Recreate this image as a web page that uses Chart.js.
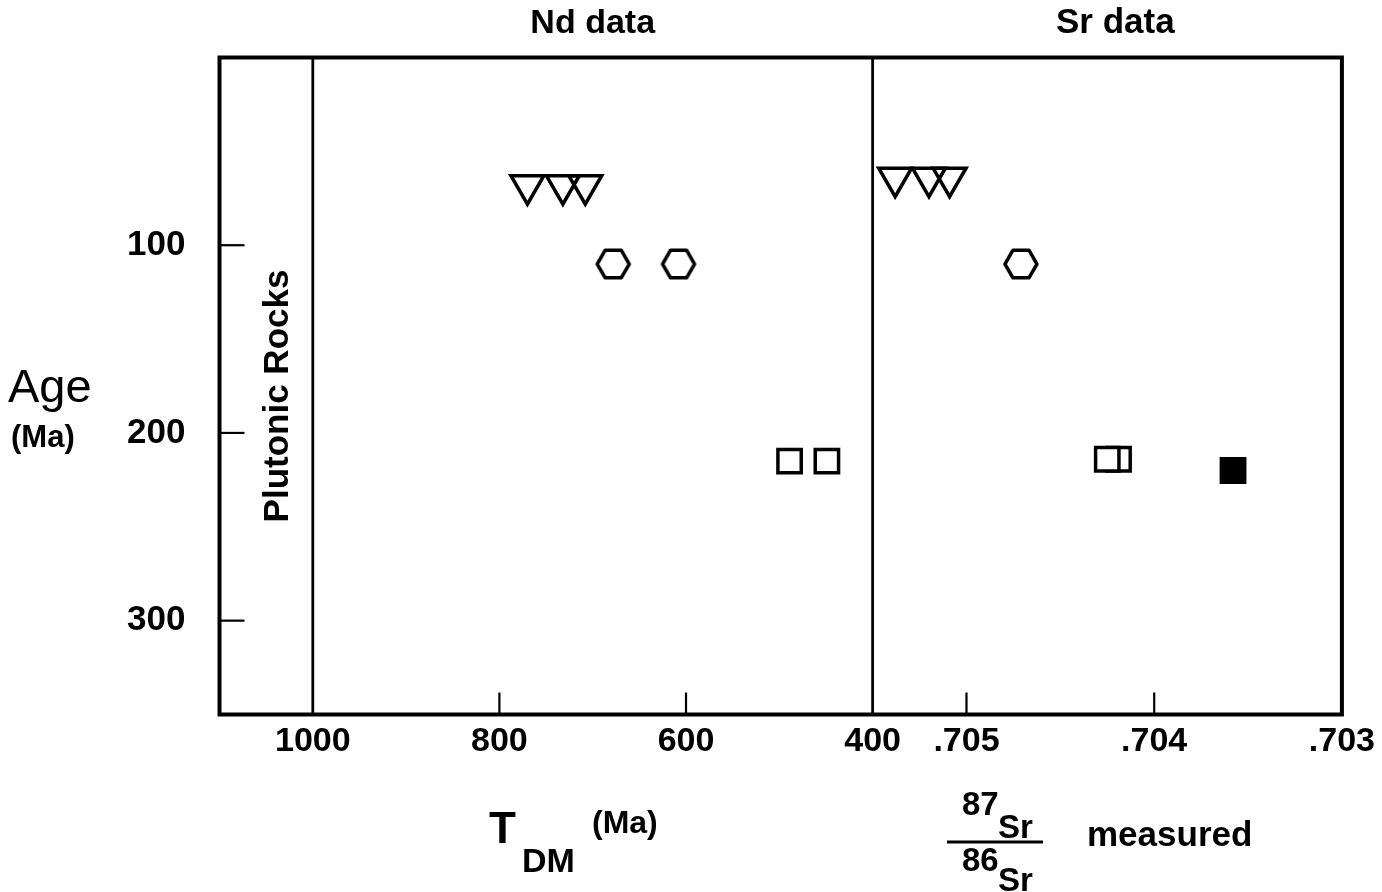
<!DOCTYPE html>
<html>
<head>
<meta charset="utf-8">
<script src="https://cdn.jsdelivr.net/npm/chart.js@4/dist/chart.umd.min.js"></script>
<style>
  html, body { margin: 0; padding: 0; background: #fff; overflow: hidden; }
  canvas { display: block; }
</style>
</head>
<body>
<canvas id="chart" width="1382" height="892"></canvas>
<script>
// Tick values for the two bottom scales and the age scale
const ndTicks = [1000, 800, 600, 400];
const srTicks = [0.705, 0.704, 0.703];
const ageTicks = [100, 200, 300];

// Nd model ages (T_DM, Ma) against crystallisation age (Ma)
const ndTriangleTdm = [770, 732, 708];
const ndTriangleAge = [68, 68, 68];
const ndHexagonTdm = [678, 608];
const ndHexagonAge = [110, 110];
const ndSquareTdm = [489, 449];
const ndSquareAge = [215, 215];

// Measured 87Sr/86Sr against age (Ma)
const srTriangleRatio = [0.70538, 0.70520, 0.70509];
const srTriangleAge = [64, 64, 64];
const srHexagonRatio = [0.70471];
const srHexagonAge = [110];
const srSquareRatio = [0.70419, 0.70425];
const srSquareAge = [214, 214];
const srFilledRatio = [0.70358];
const srFilledAge = [220];

const FONT = "'Liberation Sans', Arial, Helvetica, sans-serif";
const INK = '#000';

const toPoints = (xs, ys) => xs.map((x, i) => ({ x: x, y: ys[i] }));

// Open hexagon marker (flat top and bottom)
function hexagonMarker() {
  const c = document.createElement('canvas');
  c.width = 42; c.height = 38;
  const g = c.getContext('2d');
  const cx = 21, cy = 19, r = 16;
  g.beginPath();
  for (let k = 0; k < 6; k++) {
    const a = k * Math.PI / 3;
    const px = cx + r * Math.cos(a), py = cy + r * Math.sin(a);
    if (k === 0) g.moveTo(px, py); else g.lineTo(px, py);
  }
  g.closePath();
  g.fillStyle = '#fff';
  g.fill();
  g.lineWidth = 3.5;
  g.lineJoin = 'round';
  g.strokeStyle = INK;
  g.stroke();
  return c;
}
const hexagon = hexagonMarker();

function triangleSet(xAxisID, xs, ys) {
  return {
    xAxisID, data: toPoints(xs, ys),
    pointStyle: 'triangle', pointRotation: 180, pointRadius: 19,
    pointBorderWidth: 3.5, pointBorderColor: INK, pointBackgroundColor: 'rgba(0,0,0,0)'
  };
}
function squareSet(xAxisID, xs, ys, fill) {
  return {
    xAxisID, data: toPoints(xs, ys),
    pointStyle: 'rect', pointRadius: 16.5,
    pointBorderWidth: 3.5, pointBorderColor: INK, pointBackgroundColor: fill
  };
}
function hexagonSet(xAxisID, xs, ys) {
  return {
    xAxisID, data: toPoints(xs, ys),
    pointStyle: hexagon, pointRadius: 17, pointBorderWidth: 0
  };
}

// Frame, inner divider lines, inward tick marks and free text
const decorations = {
  id: 'decorations',
  afterDraw(chart) {
    const { ctx, chartArea: a } = chart;
    const nd = chart.scales.nd, sr = chart.scales.sr, y = chart.scales.y;
    ctx.save();
    ctx.strokeStyle = INK;
    ctx.lineCap = 'butt';

    // vertical lines at T_DM = 1000 Ma and at the Nd / Sr boundary
    ctx.lineWidth = 2.8;
    [nd.getPixelForValue(1000), nd.getPixelForValue(400)].forEach(px => {
      ctx.beginPath(); ctx.moveTo(px, a.top); ctx.lineTo(px, a.bottom); ctx.stroke();
    });

    // inward tick marks
    ctx.lineWidth = 2.2;
    ndTicks.filter(v => v !== 1000 && v !== 400).forEach(v => {
      const px = nd.getPixelForValue(v);
      ctx.beginPath(); ctx.moveTo(px, a.bottom); ctx.lineTo(px, a.bottom - 22); ctx.stroke();
    });
    srTicks.filter(v => v !== 0.703).forEach(v => {
      const px = sr.getPixelForValue(v);
      ctx.beginPath(); ctx.moveTo(px, a.bottom); ctx.lineTo(px, a.bottom - 22); ctx.stroke();
    });
    ageTicks.forEach(v => {
      const py = y.getPixelForValue(v);
      ctx.beginPath(); ctx.moveTo(a.left, py); ctx.lineTo(a.left + 25, py); ctx.stroke();
    });

    // outer frame
    ctx.lineWidth = 4;
    ctx.strokeRect(a.left, a.top, a.right - a.left, a.bottom - a.top);

    // text
    ctx.fillStyle = INK;
    ctx.textBaseline = 'alphabetic';
    const text = (s, x, yy, font, align) => {
      ctx.font = font; ctx.textAlign = align || 'left'; ctx.fillText(s, x, yy);
    };
    const ndMid = (nd.getPixelForValue(1000) + nd.getPixelForValue(400)) / 2;
    text('Nd data', ndMid, 33, 'bold 34px ' + FONT, 'center');
    text('Sr data', (sr.left + sr.right) / 2 + 8, 33, 'bold 35px ' + FONT, 'center');

    text('Age', 8, 402, '47px ' + FONT);
    text('(Ma)', 11, 447, 'bold 31px ' + FONT);

    text('T', 489, 843, 'bold 44px ' + FONT);
    text('DM', 522, 872, 'bold 34px ' + FONT);
    text('(Ma)', 592, 833, 'bold 32px ' + FONT);

    text('87', 962, 815, 'bold 33px ' + FONT);
    text('Sr', 998, 838, 'bold 33px ' + FONT);
    text('86', 962, 871, 'bold 33px ' + FONT);
    text('Sr', 998, 891, 'bold 33px ' + FONT);
    ctx.lineWidth = 2.8;
    ctx.beginPath(); ctx.moveTo(947, 842); ctx.lineTo(1043, 842); ctx.stroke();
    text('measured', 1087, 846, 'bold 35px ' + FONT);

    // rotated label beside the 1000 Ma line
    ctx.save();
    ctx.translate(288, 396);
    ctx.rotate(-Math.PI / 2);
    text('Plutonic Rocks', 0, 0, 'bold 35px ' + FONT, 'center');
    ctx.restore();

    ctx.restore();
  }
};

const tickFont = { family: FONT, size: 34, weight: 'bold' };

new Chart(document.getElementById('chart'), {
  type: 'scatter',
  data: {
    datasets: [
      triangleSet('nd', ndTriangleTdm, ndTriangleAge),
      hexagonSet('nd', ndHexagonTdm, ndHexagonAge),
      squareSet('nd', ndSquareTdm, ndSquareAge, '#fff'),
      triangleSet('sr', srTriangleRatio, srTriangleAge),
      hexagonSet('sr', srHexagonRatio, srHexagonAge),
      squareSet('sr', srSquareRatio, srSquareAge, '#fff'),
      squareSet('sr', srFilledRatio, srFilledAge, INK)
    ]
  },
  options: {
    responsive: false,
    animation: false,
    devicePixelRatio: 1,
    events: [],
    layout: { padding: { left: 0, top: 57.5, right: 36, bottom: 0 } },
    plugins: { legend: { display: false }, tooltip: { enabled: false } },
    scales: {
      nd: {
        type: 'linear', axis: 'x', position: 'bottom',
        stack: 'bottom', stackWeight: 655.5,
        reverse: true, min: 400, max: 1100,
        grid: { display: false, drawTicks: false },
        border: { display: false },
        ticks: { font: tickFont, color: INK, padding: 7, maxRotation: 0, autoSkip: false,
                 callback: v => String(v) },
        afterBuildTicks: s => { s.ticks = ndTicks.map(v => ({ value: v })); },
        afterFit: s => { s.height = 177.5; }
      },
      sr: {
        type: 'linear', axis: 'x', position: 'bottom',
        stack: 'bottom', stackWeight: 471,
        reverse: true, min: 0.703, max: 0.7055,
        grid: { display: false, drawTicks: false },
        border: { display: false },
        ticks: { font: tickFont, color: INK, padding: 7, maxRotation: 0, autoSkip: false,
                 callback: v => Number(v).toFixed(3).replace(/^0/, '') },
        afterBuildTicks: s => { s.ticks = srTicks.map(v => ({ value: v })); },
        afterFit: s => { s.height = 177.5; }
      },
      y: {
        type: 'linear', position: 'left',
        reverse: true, min: 0, max: 350,
        grid: { display: false, drawTicks: false },
        border: { display: false },
        ticks: { font: { family: FONT, size: 35, weight: 'bold' }, color: INK, padding: 34 },
        afterBuildTicks: s => { s.ticks = ageTicks.map(v => ({ value: v })); },
        afterFit: s => { s.width = 219.5; }
      }
    }
  },
  plugins: [decorations]
});
</script>
</body>
</html>
